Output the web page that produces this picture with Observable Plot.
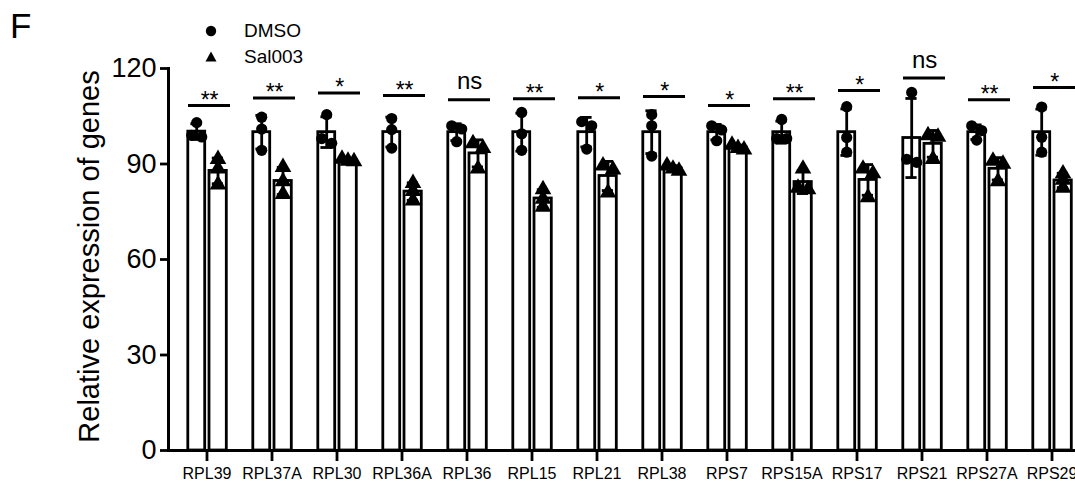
<!DOCTYPE html>
<html>
<head>
<meta charset="utf-8">
<script src="https://cdn.jsdelivr.net/npm/d3@7"></script>
<script src="https://cdn.jsdelivr.net/npm/@observablehq/plot@0.6"></script>
<style>
  html, body { margin: 0; padding: 0; background: #fff; overflow: hidden; }
  #wrap { position: relative; width: 1075px; height: 481px; overflow: hidden; font-family: "Liberation Sans", Arial, sans-serif; }
  #chart { position: absolute; left: 0; top: 0; width: 1090px; }
  #chart svg { max-width: none !important; width: 1090px; height: 481px; }
  #panel { position: absolute; left: 10px; top: 6px; font-size: 35px; color: #000; }
  #legend { position: absolute; left: 204px; top: 18px; font-size: 19px; color: #000; line-height: 26px; }
  #legend div { display: flex; align-items: center; }
  #legend svg { margin-right: 26px; }
</style>
</head>
<body>
<div id="wrap">
  <div id="chart"></div>
  <div id="panel">F</div>
  <div id="legend"></div>
</div>
<script>
const genes = ["RPL39","RPL37A","RPL30","RPL36A","RPL36","RPL15","RPL21","RPL38","RPS7","RPS15A","RPS17","RPS21","RPS27A","RPS29"];
const groups = ["DMSO", "Sal003"];
const dmso = [
  [103, 99, 98.5], [104.7, 101, 94.3], [105.5, 98, 96.5], [104.3, 100.8, 95],
  [102, 101, 97], [106.2, 99.5, 94.3], [103.3, 102, 94.7], [105.5, 102, 92.5],
  [102, 100.7, 97.3], [104, 98, 98], [108, 98.3, 93.7], [112.5, 90.5, 91.5],
  [102, 100.5, 97.5], [107.9, 98.4, 93.7]
];
const sal003 = [
  [91.5, 88.5, 83.5], [89, 84.5, 80.5], [91.6, 91, 90.8], [84, 81.5, 78.5],
  [96.5, 95, 88.5], [82, 79, 76.5], [89.5, 88.2, 81], [89.5, 88.5, 87.8],
  [96, 95, 94.5], [88.5, 82.5, 82], [88.5, 87, 79.5], [99, 98.5, 91.5],
  [91, 90, 84.5], [87, 85, 82.5]
];
const sigLabels = ["**","**","*","**","ns","**","*","*","*","**","*","ns","**","*"];
const sigHeights = [108.4, 110.7, 112.3, 111.5, 110.2, 110.5, 110.8, 111.2, 108.4, 110.5, 113.1, 117, 110.2, 114];
const yTicks = [0, 30, 60, 90, 120];
const yLabel = "Relative expression of genes";

// derived tables
const series = {DMSO: dmso, Sal003: sal003};
const summary = [];
const points = [];
for (const g of groups) {
  genes.forEach((gene, i) => {
    const vals = series[g][i];
    const mean = d3.mean(vals), sd = d3.deviation(vals);
    summary.push({gene, group: g, mean, lo: mean - sd, hi: mean + sd});
    // spread overlapping replicate points horizontally
    const sorted = vals.map((v, k) => ({v, k})).sort((a, b) => b.v - a.v);
    const clusters = [];
    for (const p of sorted) {
      const last = clusters[clusters.length - 1];
      if (last && last[last.length - 1].v - p.v < 1.6) last.push(p); else clusters.push([p]);
    }
    for (const c of clusters) {
      const spreads = c.length === 1 ? [0] : c.length === 2 ? [-5, 5] : [-6, 0, 6];
      c.forEach((p, j) => points.push({gene, group: g, value: p.v, spread: spreads[j]}));
    }
  });
}
const sig = genes.map((gene, i) => ({gene, label: sigLabels[i], h: sigHeights[i]}));

const base = {DMSO: -10.3, Sal003: 11};
const barInset = {DMSO: [13.8, 34.3], Sal003: [35, 12.7]};
const capInset = {DMSO: [16.4, 37.4], Sal003: [37.8, 16]};
const sym = {DMSO: "circle", Sal003: "triangle"};

const marks = [];
for (const g of groups) {
  const s = summary.filter(d => d.group === g);
  marks.push(Plot.barY(s, {x: "gene", y: "mean", fill: "white", stroke: "black", strokeWidth: 2.8,
    insetLeft: barInset[g][0], insetRight: barInset[g][1]}));
}
marks.push(Plot.ruleY([0], {stroke: "black", strokeWidth: 3}));
for (const g of groups) {
  const s = summary.filter(d => d.group === g);
  marks.push(Plot.ruleX(s, {x: "gene", y1: "lo", y2: "hi", dx: base[g], stroke: "black", strokeWidth: 2.8}));
  marks.push(Plot.tickY(s, {x: "gene", y: "hi", stroke: "black", strokeWidth: 2.8, insetLeft: capInset[g][0], insetRight: capInset[g][1]}));
  marks.push(Plot.tickY(s, {x: "gene", y: "lo", stroke: "black", strokeWidth: 2.8, insetLeft: capInset[g][0], insetRight: capInset[g][1]}));
  for (const sp of [-6, -5, 0, 5, 6]) {
    const p = points.filter(d => d.group === g && d.spread === sp);
    if (!p.length) continue;
    marks.push(Plot.dot(p, {x: "gene", y: "value", dx: base[g] + sp, symbol: () => sym[g], fill: "black", stroke: "none", r: g === "DMSO" ? 5.6 : 6.2}));
  }
}
marks.push(Plot.tickY(sig, {x: "gene", y: "h", stroke: "black", strokeWidth: 3, insetLeft: 14, insetRight: 9}));
marks.push(Plot.text(sig.filter(d => d.label !== "ns"), {x: "gene", y: "h", text: "label", dx: 2.6, dy: -5, fontSize: 23, fill: "black"}));
marks.push(Plot.text(sig.filter(d => d.label === "ns"), {x: "gene", y: "h", text: "label", dx: 2.6, dy: -18, fontSize: 24, fill: "black"}));
marks.push(Plot.axisY({ticks: yTicks, tickSize: 8, tickPadding: 4, fontSize: 27, strokeWidth: 2.8, label: null, tickFormat: d => String(d)}));
marks.push(Plot.frame({anchor: "left", stroke: "black", strokeWidth: 3}));
marks.push(Plot.axisX({tickSize: 11, tickPadding: 6, fontSize: 16, strokeWidth: 2.8, label: null}));
marks.push(Plot.text([yLabel], {frameAnchor: "left", textAnchor: "middle", lineAnchor: "middle", rotate: -90, dx: -79, dy: -3, fontSize: 29, fill: "black"}));

const chart = Plot.plot({
  width: 1090,
  height: 481,
  marginTop: 68,
  marginBottom: 31,
  marginLeft: 168,
  marginRight: 1,
  style: {fontFamily: '"Liberation Sans", Arial, sans-serif', color: "black", background: "white", overflow: "visible", maxWidth: "none"},
  x: {domain: genes, padding: 0, axis: null},
  y: {domain: [0, 120], axis: null},
  symbol: {domain: ["circle", "triangle"], range: ["circle", "triangle"]},
  marks
});
document.getElementById("chart").appendChild(chart);

// legend
const leg = document.getElementById("legend");
for (const g of groups) {
  const row = document.createElement("div");
  const shape = g === "DMSO"
    ? '<circle cx="7" cy="7" r="5.2" fill="black"/>'
    : '<path d="M7,1.5 L12.5,11.5 L1.5,11.5 Z" fill="black"/>';
  row.innerHTML = '<svg width="14" height="14">' + shape + '</svg><span>' + g + '</span>';
  leg.appendChild(row);
}
</script>
</body>
</html>
